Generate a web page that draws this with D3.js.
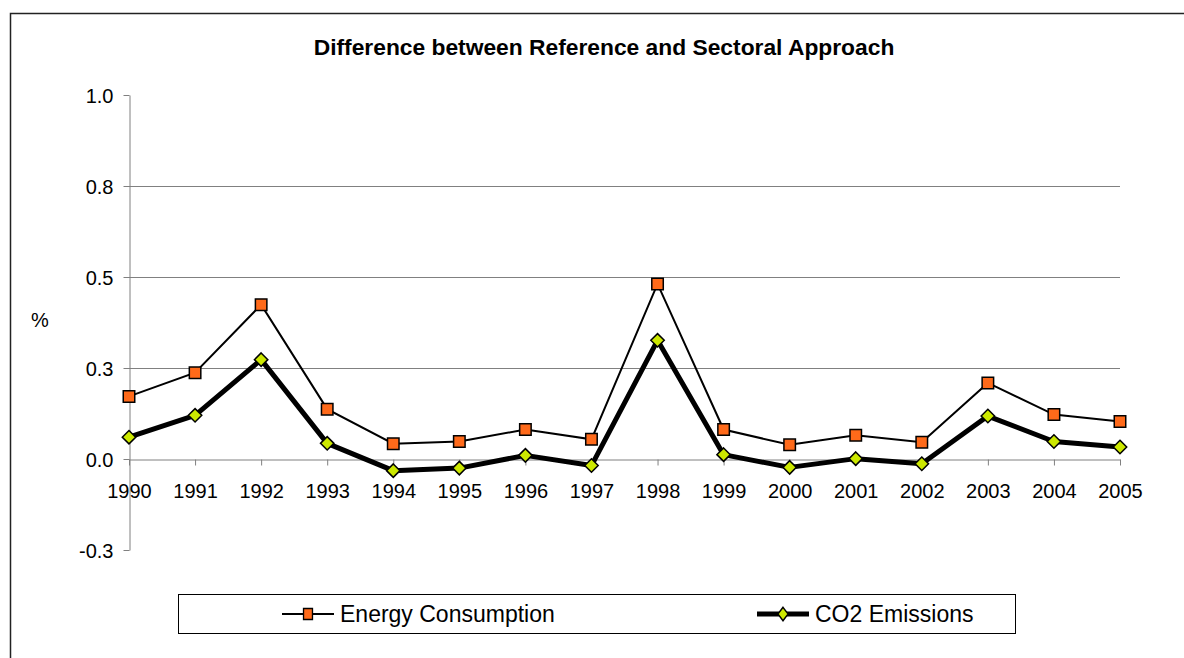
<!DOCTYPE html>
<html>
<head>
<meta charset="utf-8">
<script src="https://cdn.jsdelivr.net/npm/d3@7"></script>
<style>
	body { margin: 0; background: #fff; }
	svg { display: block; font-family: "Liberation Sans", Arial, sans-serif; }
</style>
</head>
<body>
<svg id="chart" width="1184" height="658"></svg>
<script>
// data
const years = ["1990","1991","1992","1993","1994","1995","1996","1997","1998","1999","2000","2001","2002","2003","2004","2005"];
const energyConsumption = [0.172, 0.237, 0.424, 0.137, 0.042, 0.048, 0.081, 0.054, 0.481, 0.081, 0.039, 0.065, 0.046, 0.209, 0.122, 0.103];
const co2Emissions = [0.060, 0.120, 0.273, 0.043, -0.032, -0.025, 0.010, -0.018, 0.326, 0.012, -0.023, 0.001, -0.013, 0.118, 0.048, 0.033];
const yTicks = [-0.25, 0, 0.25, 0.5, 0.75, 1.0];
const yTickLabels = ["-0.3", "0.0", "0.3", "0.5", "0.8", "1.0"];
const seriesNames = ["Energy Consumption", "CO2 Emissions"];

const svg = d3.select("#chart");

// outer chart frame (only top and left edges visible)
svg.append("path")
	.attr("d", "M10.5,700 V13.5 H1200")
	.attr("fill", "none")
	.attr("stroke", "#222")
	.attr("stroke-width", 1.5);

svg.append("text")
	.attr("x", 604)
	.attr("y", 55)
	.attr("text-anchor", "middle")
	.style("font-size", "22.8px")
	.style("font-weight", "bold")
	.text("Difference between Reference and Sectoral Approach");

const x = d3.scalePoint().domain(years).range([129, 1120]);
const y = d3.scaleLinear().domain([-0.25, 1.0]).range([550, 95]);

// gridlines
svg.append("g")
	.selectAll("line")
	.data([0.25, 0.5, 0.75])
	.enter().append("line")
	.attr("x1", 129).attr("x2", 1120)
	.attr("y1", d => Math.round(y(d)) + 0.5)
	.attr("y2", d => Math.round(y(d)) + 0.5)
	.attr("stroke", "#808080")
	.attr("stroke-width", 1);

// y axis
const yAxis = svg.append("g")
	.attr("transform", "translate(129.5,0)")
	.call(d3.axisLeft(y)
		.tickValues(yTicks)
		.tickFormat((d, i) => yTickLabels[i])
		.tickSize(6)
		.tickPadding(10)
		.tickSizeOuter(0));
yAxis.select(".domain").attr("stroke", "#808080");
yAxis.selectAll(".tick line").attr("stroke", "#808080");
yAxis.selectAll("text").style("font-size", "20px").attr("fill", "#000").attr("dy", "0.35em");

// x axis through zero
const xAxis = svg.append("g")
	.attr("transform", "translate(0," + (Math.round(y(0)) + 0.5) + ")")
	.call(d3.axisBottom(x)
		.tickSize(6)
		.tickPadding(18)
		.tickSizeOuter(0));
xAxis.select(".domain").attr("stroke", "#808080");
xAxis.selectAll(".tick line").attr("stroke", "#808080");
xAxis.selectAll("text").style("font-size", "20px").attr("fill", "#000");

svg.append("text")
	.attr("x", 40)
	.attr("y", 327)
	.attr("text-anchor", "middle")
	.style("font-size", "20px")
	.text("%");

const line = d3.line()
	.x((d, i) => x(years[i]))
	.y(d => y(d));

svg.append("path")
	.datum(energyConsumption)
	.attr("fill", "none")
	.attr("stroke", "#000")
	.attr("stroke-width", 2)
	.attr("d", line);

svg.append("path")
	.datum(co2Emissions)
	.attr("fill", "none")
	.attr("stroke", "#000")
	.attr("stroke-width", 5)
	.attr("stroke-linejoin", "round")
	.attr("d", line);

const squareSym = d3.symbol().type(d3.symbolSquare).size(132);
const diamondSym = d3.symbol().type(d3.symbolDiamond2).size(115);

svg.append("g")
	.selectAll("path")
	.data(energyConsumption)
	.enter().append("path")
	.attr("transform", (d, i) => "translate(" + x(years[i]) + "," + y(d) + ")")
	.attr("d", squareSym)
	.attr("fill", "#FF6A1A")
	.attr("stroke", "#000")
	.attr("stroke-width", 1.5);

svg.append("g")
	.selectAll("path")
	.data(co2Emissions)
	.enter().append("path")
	.attr("transform", (d, i) => "translate(" + x(years[i]) + "," + y(d) + ")")
	.attr("d", diamondSym)
	.attr("fill", "#CCE800")
	.attr("stroke", "#000")
	.attr("stroke-width", 1.5);

// legend
const legend = svg.append("g");
legend.append("rect")
	.attr("x", 178.5).attr("y", 594.5)
	.attr("width", 837).attr("height", 39)
	.attr("fill", "#fff")
	.attr("stroke", "#000")
	.attr("stroke-width", 1);

const legendItems = [
	{ name: seriesNames[0], x0: 282, width: 2, sym: squareSym, fill: "#FF6A1A", sx: 0.78, sy: 0.95 },
	{ name: seriesNames[1], x0: 757, width: 5, sym: diamondSym, fill: "#CCE800", sx: 0.75, sy: 1.0 }
];
const li = legend.selectAll(".item").data(legendItems).enter().append("g");
li.append("line")
	.attr("x1", d => d.x0).attr("x2", d => d.x0 + 52)
	.attr("y1", 614).attr("y2", 614)
	.attr("stroke", "#000")
	.attr("stroke-width", d => d.width);
li.append("path")
	.attr("transform", d => "translate(" + (d.x0 + 26) + ",614) scale(" + d.sx + "," + d.sy + ")")
	.attr("d", d => d.sym())
	.attr("fill", d => d.fill)
	.attr("stroke", "#000")
	.attr("stroke-width", 1.7);
li.append("text")
	.attr("x", d => d.x0 + 58)
	.attr("y", 622)
	.style("font-size", "23px")
	.text(d => d.name);
</script>
</body>
</html>
